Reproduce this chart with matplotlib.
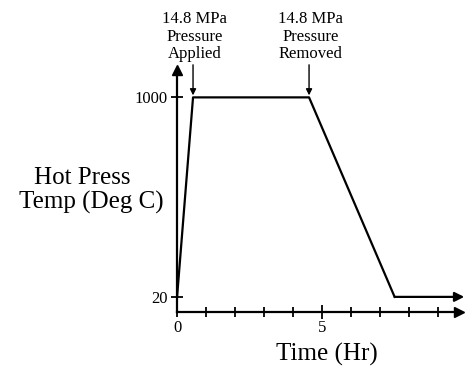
import matplotlib
matplotlib.use("Agg")
import matplotlib.pyplot as plt

# hot-press schedule: time (hr) vs temperature (deg C)
time_hr = [0.0, 0.55, 4.55, 7.5, 9.9]
temp_c = [20, 1000, 1000, 20, 20]

ytick_vals = [20, 1000]
xtick_vals = [0, 1, 2, 3, 4, 5, 6, 7, 8, 9]
xtick_labels = ["0", "", "", "", "", "5", "", "", "", ""]

events = [(0.55, "14.8 MPa\nPressure\nApplied"),
          (4.55, "14.8 MPa\nPressure\nRemoved")]

plt.rcParams["font.family"] = ["Liberation Serif", "DejaVu Serif"]

fig = plt.figure(figsize=(4.66, 3.67), dpi=100)
ax = fig.add_axes([0.380, 0.150, 0.605, 0.659])
ax.set_xlim(0, 9.72)
ax.set_ylim(-54, 1134)

for s in ("top", "right"):
    ax.spines[s].set_visible(False)
for s in ("left", "bottom"):
    ax.spines[s].set_linewidth(1.6)

# axis arrow heads
ax.plot(1, 0, marker=">", color="k", ms=7, transform=ax.transAxes, clip_on=False)
ax.plot(0, 1, marker="^", color="k", ms=7, transform=ax.transAxes, clip_on=False)

ax.set_yticks(ytick_vals)
ax.set_yticklabels([str(v) for v in ytick_vals], fontsize=12)
ax.set_xticks(xtick_vals)
ax.set_xticklabels(xtick_labels, fontsize=12)
ax.tick_params(axis="both", direction="inout", length=9, width=1.3, pad=2, colors="k")
ax.tick_params(axis="x", length=7)
ax.get_xticklines()[10].set_markersize(10)
ax.get_xticklines()[11].set_markersize(10)

# temperature profile, ending in an arrow
ax.plot(time_hr[:-1], temp_c[:-1], color="k", lw=1.6, clip_on=False)
ax.annotate("", xy=(time_hr[-1], temp_c[-1]), xytext=(time_hr[-2], temp_c[-2]),
            arrowprops=dict(arrowstyle="-|>", color="k", lw=1.6,
                            mutation_scale=14, shrinkA=0, shrinkB=0),
            annotation_clip=False)

# pressure events
for t, label in events:
    ax.annotate("", xy=(t, 1010), xytext=(t, 1160),
                arrowprops=dict(arrowstyle="-|>", color="k", lw=1.0,
                                mutation_scale=9, shrinkA=0, shrinkB=0),
                annotation_clip=False)
    ax.text(t + 0.05, 1175, label, ha="center", va="bottom", fontsize=12,
            linespacing=1.1, clip_on=False)

fig.text(82 / 466, 1 - 178 / 367, "Hot Press", ha="center", va="center",
         fontsize=18)
fig.text(91 / 466, 1 - 202 / 367, "Temp (Deg C)", ha="center", va="center",
         fontsize=18)
fig.text(327 / 466, 1.5 / 367, "Time (Hr)", ha="center", va="bottom",
         fontsize=18)

fig.savefig("out.png", dpi=100)
